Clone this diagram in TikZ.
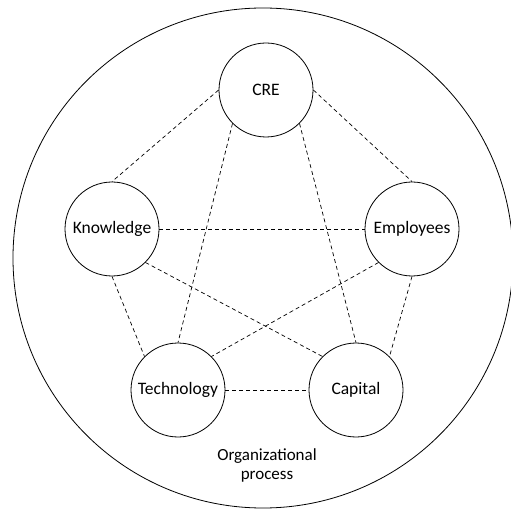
\documentclass[tikz,border=0pt]{standalone}
\usepackage{fontspec}
\setmainfont{Carlito}
\usepackage{tikz}
\usetikzlibrary{calc}

\tikzset{
  factor/.style={circle,draw,line width=0.8pt,minimum size=94pt,inner sep=0pt,font=\fontsize{17.5}{20}\selectfont},
  link/.style={line width=0.7pt,dash pattern=on 4pt off 3pt}
}

\begin{document}
\begin{tikzpicture}[x=1pt,y=-1pt]
\useasboundingbox (0,0) rectangle (511,510);
% Outer process circle
\node[circle,draw,line width=0.8pt,minimum size=500pt,inner sep=0pt] (proc) at (263,258) {};
\node[align=center,font=\fontsize{17}{19}\selectfont] (proclabel) at (267,465) {Organizational\\process};

% Factors
\node[factor] (cre) at (266,90) {CRE};
\node[factor] (know) at (112,229) {Knowledge};
\node[factor] (empl) at (412,229) {Employees};
\node[factor] (tech) at (178,390) {Technology};
\node[factor] (cap) at (356,390) {Capital};

% Dashed links
\draw[link] (cre.west) -- (know.north);
\draw[link] (cre.east) -- (empl.north);
\draw[link] (cre.south west) -- (tech.north);
\draw[link] (cre.south east) -- (cap.north);
\draw[link] (know.east) -- (empl.west);
\draw[link] (know.south) -- (tech.north west);
\draw[link] (know.south east) -- (cap.north west);
\draw[link] (empl.south west) -- (tech.north east);
\draw[link] (empl.south) -- (cap.north east);
\draw[link] (tech.east) -- (cap.west);
\end{tikzpicture}
\end{document}
